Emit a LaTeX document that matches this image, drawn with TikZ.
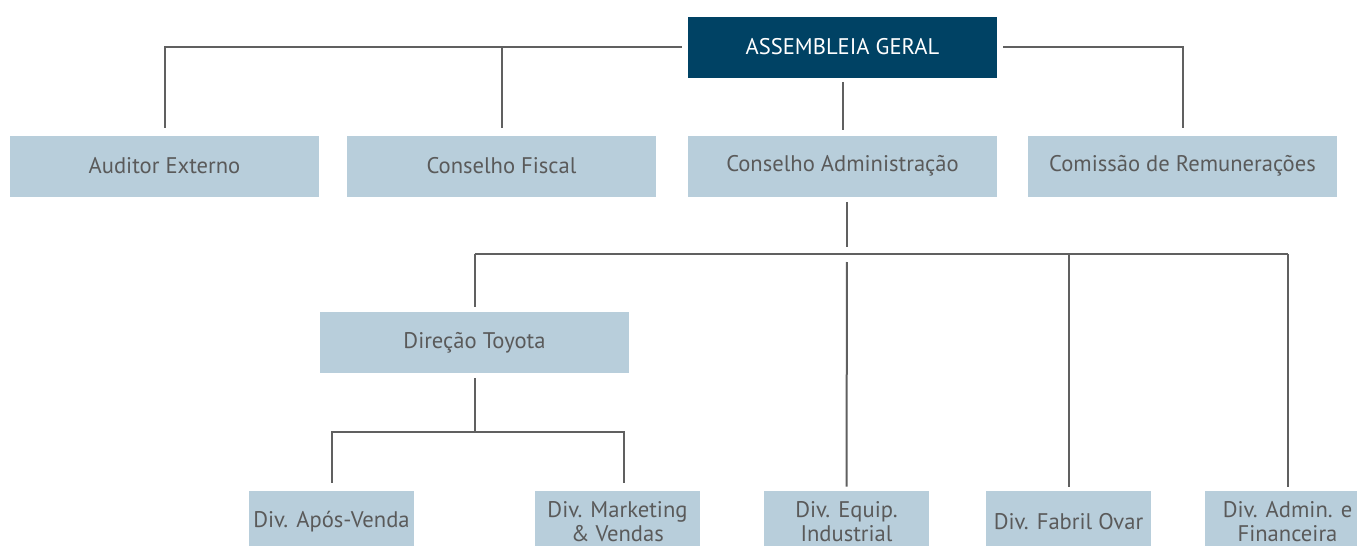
\documentclass[tikz,border=0pt]{standalone}
\usepackage{xcolor}
\usepackage{fontspec}
\setmainfont{PT Sans}
\usepackage{tikz}

\definecolor{agblue}{HTML}{004264}
\definecolor{boxblue}{HTML}{B8CEDB}
\definecolor{txtgray}{HTML}{5A5A5A}
\definecolor{linegray}{HTML}{606060}

\tikzset{
  topbox/.style={fill=agblue, text=white, minimum width=154.5pt, minimum height=30.5pt, inner sep=0pt, font=\fontsize{11.3}{12}\selectfont},
  orgbox/.style={fill=boxblue, text=txtgray, minimum width=154.5pt, minimum height=30.5pt, inner sep=0pt, font=\fontsize{11.3}{12}\selectfont},
  divbox/.style={orgbox, minimum width=82.5pt, align=center},
  link/.style={draw=linegray, line width=1pt}
}

\begin{document}
\begin{tikzpicture}[x=0.5pt, y=-0.5pt]
    \useasboundingbox (0,0) rectangle (1357,546);
    % top
    \node[topbox] (ag) at (842.5,47) {ASSEMBLEIA GERAL};
    % second row
    \node[orgbox] (ae) at (164.5,166) {Auditor Externo};
    \node[orgbox] (cf) at (501.5,166) {Conselho Fiscal};
    \node[orgbox] (ca) at (842.5,166) {Conselho Administração};
    \node[orgbox] (cr) at (1182.5,166) {Comissão de Remunerações};
    % third row
    \node[orgbox] (dt) at (474.5,342.5) {Direção Toyota};
    % divisions
    \node[divbox] (dav) at (331.5,521.5) {Div. Após-Venda};
    \node[divbox] (dmv) at (617.5,521.5) {Div. Marketing\\\& Vendas};
    \node[divbox] (dei) at (846.5,521.5) {Div. Equip.\\Industrial};
    \node[divbox] (dfo) at (1068.5,521.5) {Div. Fabril Ovar};
    \node[divbox] (daf) at (1287.5,521.5) {Div. Admin. e\\Financeira};

    \coordinate (bus) at (847,254);
    \coordinate (tbus) at (474.5,432);

    % links from the top
    \draw[link, shorten <=3pt, shorten >=3.5pt] (ag.west) -| (ae.north);
    \draw[link, shorten >=3.5pt] (ag.west) ++(-3pt,0) -| (cf.north);
    \draw[link, shorten <=3pt, shorten >=3.5pt] (ag.east) -| (cr.north);
    \draw[link, shorten <=2pt, shorten >=2.5pt] (ag.south) -- (ca.north);

    % links below the board
    \draw[link, shorten <=2.5pt, shorten >=3.5pt] (ca.south -| bus) -- (bus);
    \draw[link, shorten <=4pt, shorten >=2pt] (bus) -- (dei.north);
    \draw[link] (bus -| dt.north) -- (bus -| daf.north);
    \draw[link, shorten >=2.5pt] (bus -| dt.north) -- (dt.north);
    \draw[link, shorten >=2pt] (bus -| dfo.north) -- (dfo.north);
    \draw[link, shorten >=2pt] (bus -| daf.north) -- (daf.north);

    % links below Direcao Toyota
    \draw[link, shorten <=2.5pt] (dt.south) -- (tbus);
    \draw[link, shorten <=4pt, shorten >=4pt] (dav.north) |- (tbus) -| ([xshift=3pt]dmv.north);
  \end{tikzpicture}
\end{document}
